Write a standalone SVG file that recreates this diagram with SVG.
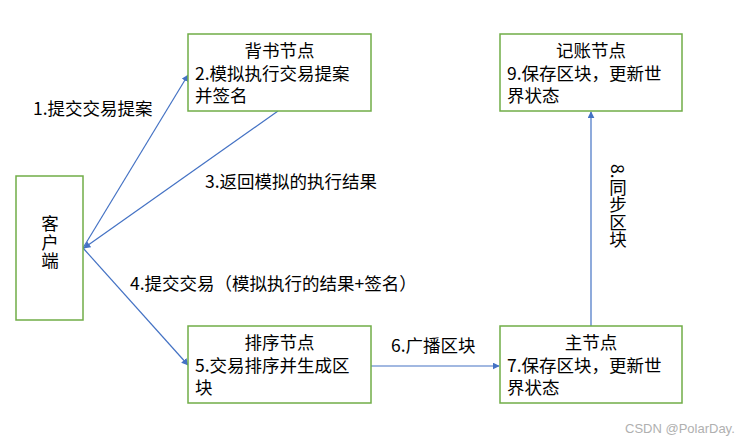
<svg xmlns="http://www.w3.org/2000/svg" width="756" height="445" viewBox="0 0 756 445">
<style>
.box{fill:#fff;stroke:#70ad47;stroke-width:1.5}
.t{font-family:"Noto Sans CJK SC","Microsoft YaHei",sans-serif;font-size:17.5px;fill:#000}
.c{text-anchor:middle}
.ln{stroke:#4472c4;stroke-width:1.2;fill:none}
</style>
<defs>
<marker id="ah" viewBox="0 0 10 10" refX="9" refY="5" markerWidth="7" markerHeight="7" orient="auto-start-reverse" markerUnits="userSpaceOnUse">
<path d="M0,0 L10,5 L0,10 z" fill="#4472c4"/>
</marker>
</defs>
<rect width="756" height="445" fill="#fff"/>
<g id="connectors">
<line class="ln" x1="83" y1="248" x2="188" y2="75" marker-end="url(#ah)"/>
<line class="ln" x1="278" y1="111" x2="84" y2="248" marker-end="url(#ah)"/>
<line class="ln" x1="83" y1="248" x2="188" y2="365" marker-end="url(#ah)"/>
<line class="ln" x1="371" y1="366" x2="499" y2="366" marker-end="url(#ah)"/>
<line class="ln" x1="591" y1="326" x2="591" y2="112" marker-end="url(#ah)"/>
<text class="t" x="33" y="115">1.提交交易提案</text>
<text class="t" x="205" y="188">3.返回模拟的执行结果</text>
<text class="t" x="130" y="290">4.提交交易（模拟执行的结果+签名）</text>
<text class="t" x="391" y="352">6.广播区块</text>
<text class="t" x="618" y="164" style="writing-mode:vertical-rl">8.同步区块</text>
</g>
<g id="client">
<rect class="box" x="16" y="176" width="67" height="144"/>
<text class="t" x="50" y="215" style="writing-mode:vertical-rl;letter-spacing:1px">客户端</text>
</g>
<g id="endorser">
<rect class="box" x="188" y="34" width="183" height="77"/>
<text class="t"><tspan class="c" x="279.5" y="57">背书节点</tspan><tspan x="195" y="80">2.模拟执行交易提案</tspan><tspan x="195" y="102">并签名</tspan></text>
</g>
<g id="orderer">
<rect class="box" x="188" y="326" width="183" height="77"/>
<text class="t"><tspan class="c" x="279.5" y="349">排序节点</tspan><tspan x="195" y="372">5.交易排序并生成区</tspan><tspan x="195" y="394">块</tspan></text>
</g>
<g id="ledger">
<rect class="box" x="500" y="34" width="182" height="77"/>
<text class="t"><tspan class="c" x="591" y="57">记账节点</tspan><tspan x="507" y="80">9.保存区块，更新世</tspan><tspan x="507" y="102">界状态</tspan></text>
</g>
<g id="main">
<rect class="box" x="500" y="326" width="182" height="77"/>
<text class="t"><tspan class="c" x="591" y="349">主节点</tspan><tspan x="507" y="372">7.保存区块，更新世</tspan><tspan x="507" y="394">界状态</tspan></text>
</g>
<text x="625" y="433" style="font-family:'Liberation Sans',Arial,sans-serif;font-size:13px;fill:#b0b0b0">CSDN @PolarDay.</text>
</svg>
